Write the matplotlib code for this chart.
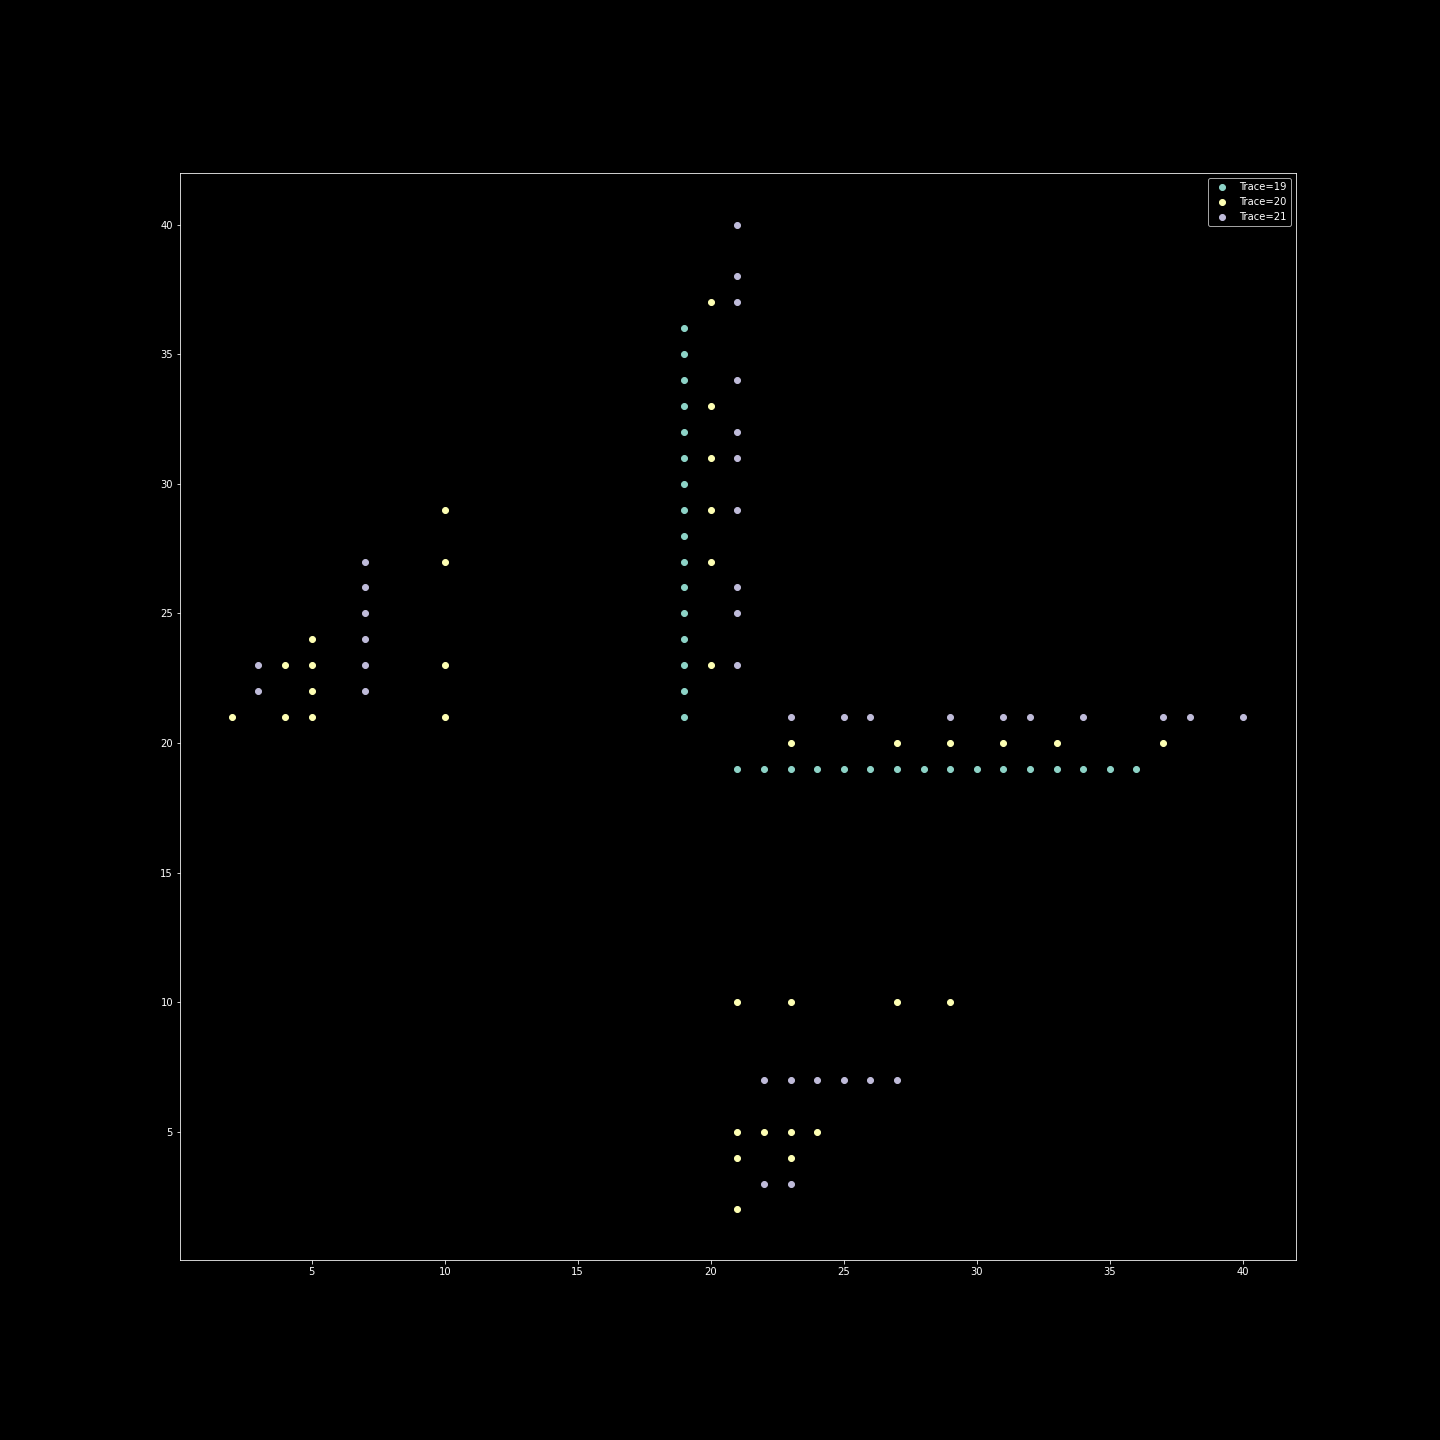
import matplotlib
matplotlib.use("Agg")
import matplotlib.pyplot as plt

# trace 19
x19 = [19] * 16 + list(range(21, 37))
y19 = list(range(21, 37)) + [19] * 16

# trace 20
x20 = [2, 4, 4, 5, 5, 5, 5, 10, 10, 10, 10, 20, 20, 20, 20, 20, 20,
       23, 27, 29, 31, 33, 37, 21, 23, 27, 29, 21, 22, 23, 24, 21, 23, 21]
y20 = [21, 21, 23, 21, 22, 23, 24, 21, 23, 27, 29, 23, 27, 29, 31, 33, 37,
       20, 20, 20, 20, 20, 20, 10, 10, 10, 10, 5, 5, 5, 5, 4, 4, 2]

# trace 21
x21 = [3, 3, 7, 7, 7, 7, 7, 7, 21, 21, 21, 21, 21, 21, 21, 21, 21, 21,
       23, 25, 26, 29, 31, 32, 34, 37, 38, 40, 22, 23, 24, 25, 26, 27, 22, 23]
y21 = [22, 23, 22, 23, 24, 25, 26, 27, 23, 25, 26, 29, 31, 32, 34, 37, 38, 40,
       21, 21, 21, 21, 21, 21, 21, 21, 21, 21, 7, 7, 7, 7, 7, 7, 3, 3]

traces = [("Trace=19", x19, y19), ("Trace=20", x20, y20), ("Trace=21", x21, y21)]

plt.style.use("dark_background")
fig, ax = plt.subplots(figsize=(20, 20), dpi=72)
fig.subplots_adjust(left=0.125, right=0.9, top=0.88, bottom=0.125)

for label, xs, ys in traces:
    ax.scatter(xs, ys, label=label)

ax.set_xlim(0.05, 42)
ax.set_ylim(0.05, 42)
ax.legend(loc="upper right")
fig.savefig("out.png", dpi=72)
